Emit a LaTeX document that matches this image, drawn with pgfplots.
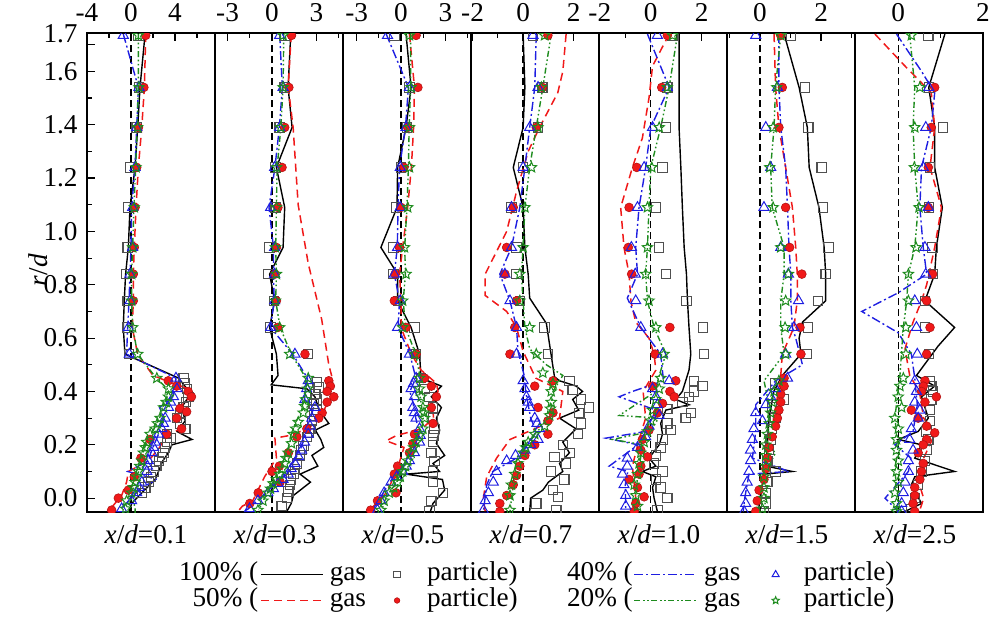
\documentclass[border=0pt]{standalone}
\usepackage{fontspec}
\setmainfont{Liberation Serif}
\usepackage{pgfplots}
\pgfplotsset{compat=1.18}
\newcommand\fsz{\fontsize{13.6}{16}\selectfont}
\definecolor{cR}{RGB}{240,25,25}
\definecolor{cB}{RGB}{30,30,225}
\definecolor{cG}{RGB}{30,140,30}
\definecolor{cK}{RGB}{80,80,80}
\pgfdeclareplotmark{ostar}{%
 \pgfpathmoveto{\pgfpointpolar{90}{\pgfplotmarksize}}%
 \pgfpathlineto{\pgfpointpolar{126}{0.45\pgfplotmarksize}}%
 \pgfpathlineto{\pgfpointpolar{162}{\pgfplotmarksize}}%
 \pgfpathlineto{\pgfpointpolar{198}{0.45\pgfplotmarksize}}%
 \pgfpathlineto{\pgfpointpolar{234}{\pgfplotmarksize}}%
 \pgfpathlineto{\pgfpointpolar{270}{0.45\pgfplotmarksize}}%
 \pgfpathlineto{\pgfpointpolar{306}{\pgfplotmarksize}}%
 \pgfpathlineto{\pgfpointpolar{342}{0.45\pgfplotmarksize}}%
 \pgfpathlineto{\pgfpointpolar{18}{\pgfplotmarksize}}%
 \pgfpathlineto{\pgfpointpolar{54}{0.45\pgfplotmarksize}}%
 \pgfpathclose\pgfusepathqstroke}
\pgfplotsset{
 gK/.style={black, line width=0.7pt, no marks},
 gR/.style={cR, line width=0.75pt, dash pattern=on 4pt off 2.5pt, no marks},
 gB/.style={cB, line width=0.7pt, dash pattern=on 4.5pt off 1.5pt on 1pt off 1.5pt, no marks},
 gG/.style={cG, line width=0.7pt, dash pattern=on 3pt off 1.3pt on 0.8pt off 1.3pt on 0.8pt off 1.3pt, no marks},
 pK/.style={cK, only marks, mark=square, mark size=2.35pt, mark options={draw=cK, line width=0.55pt, solid}},
 pR/.style={cR, only marks, mark=*, mark size=2.2pt, mark options={fill=cR, draw=cR!75!black, line width=0.3pt, solid}},
 pB/.style={cB, only marks, mark=triangle, mark size=2.9pt, mark options={draw=cB, line width=0.5pt, solid}},
 pG/.style={cG, only marks, mark=ostar, mark size=2.7pt, mark options={draw=cG, line width=0.5pt, solid}},
 zl/.style={black, line width=0.7pt, dash pattern=on 3.5pt off 2pt, forget plot},
 legline/.style={legend image code/.code={\draw[##1] (0pt,0pt) -- (31pt,0pt);}},
 panel/.style={
  scale only axis, width=64pt, height=239.5pt, anchor=south west,
  ymin=-0.052, ymax=1.744,
  axis line style={line width=0.75pt},
  xtick pos=right, xticklabel pos=right,
  ytick=\empty,
  tick align=inside,
  major tick length=4pt, minor tick length=2.5pt,
  every tick/.style={black, line width=0.6pt},
  clip marker paths=true, clip mode=individual,
  /pgf/number format/assume math mode=true,
  tick label style={font=\fsz},
  xticklabel style={yshift=1pt},
 },
}
\begin{document}
\fsz
\begin{tikzpicture}
\useasboundingbox (-43.5pt,-63.5pt) rectangle (452pt,256pt);
% ---------------- panel 1
\begin{axis}[panel, at={(0pt,0pt)}, xmin=-4, xmax=7.64, xtick={-4,0,4}, minor xtick={-2,2,6},
 ytick={0,0.2,0.4,0.6,0.8,1.0,1.2,1.4,1.6}, minor ytick={0.1,0.3,0.5,0.7,0.9,1.1,1.3,1.5}, ytick pos=left,
 yticklabel style={/pgf/number format/fixed, /pgf/number format/fixed zerofill, /pgf/number format/precision=1},
 extra y ticks={1.7}, extra y tick style={yticklabel style={/tikz/yshift=5.5pt}},
 legend columns=6, legend cell align=right,
 legend style={at={(0,0)}, anchor=north west, xshift=46pt, yshift=-24.75pt, draw=none, fill=none,
  inner sep=0pt, outer sep=0pt, font=\fsz, column sep=0pt, row sep=0pt,
  nodes={inner sep=0pt, text height=9.4pt, text depth=3.6pt},
  /tikz/column 2/.style={column sep=1pt}, /tikz/column 3/.style={column sep=3pt},
  /tikz/column 4/.style={column sep=13.8pt}, /tikz/column 5/.style={column sep=13.3pt},
  /tikz/column 6/.style={column sep=24.7pt}, /tikz/column 8/.style={column sep=0.5pt},
  /tikz/column 9/.style={column sep=3.5pt}, /tikz/column 10/.style={column sep=15.8pt},
  /tikz/column 11/.style={column sep=12.3pt}}]
\addlegendimage{empty legend}\addlegendentry{100\% (}
\addlegendimage{gK, legline}\addlegendentry{gas}
\addlegendimage{pK, mark size=1.7pt}\addlegendentry{particle)}
\addlegendimage{empty legend}\addlegendentry{40\% (}
\addlegendimage{gB, legline}\addlegendentry{gas}
\addlegendimage{pB, mark size=2pt}\addlegendentry{particle)}
\addlegendimage{empty legend}\addlegendentry{50\% (}
\addlegendimage{gR, legline}\addlegendentry{gas}
\addlegendimage{pR, mark size=1.4pt}\addlegendentry{particle)}
\addlegendimage{empty legend}\addlegendentry{20\% (}
\addlegendimage{gG, legline}\addlegendentry{gas}
\addlegendimage{pG, mark size=1.9pt}\addlegendentry{particle)}
\addplot[zl] coordinates {(0,-0.06) (0,1.75)};
\addplot[gK, forget plot] coordinates {(1.28,1.74) (0.82,1.54) (0.61,1.39) (0.37,1.24) (-0.09,1.09) (-0.24,0.94) (-0.49,0.84) (-0.61,0.74) (-0.70,0.64) (-0.55,0.54) (4.33,0.45) (5.09,0.41) (5.24,0.38) (4.6,0.34) (4.94,0.29) (4.18,0.25) (5.55,0.22) (3.72,0.20) (3.4,0.17) (2.9,0.14) (2.5,0.10) (2.2,0.07) (0.98,0.02) (0.06,-0.02) (-0.24,-0.06)};
\addplot[gR, forget plot] coordinates {(1.34,1.74) (1.22,1.54) (0.98,1.39) (0.67,1.24) (0.46,1.09) (0.30,0.94) (0.21,0.84) (0.21,0.74) (0.12,0.64) (0.6,0.54) (2.0,0.46) (3.2,0.44) (5.2,0.41) (5.4,0.38) (4.4,0.34) (4.2,0.30) (4.6,0.26) (3.3,0.24) (2.6,0.19) (1.6,0.14) (-0.24,0.10) (-0.4,0.06) (-0.85,0.01) (-2.07,-0.05)};
\addplot[gB, forget plot] coordinates {(-0.70,1.74) (0.67,1.54) (0.52,1.39) (0.37,1.24) (0.06,1.09) (0.0,0.94) (-0.09,0.84) (-0.18,0.74) (-0.30,0.64) (-0.40,0.54) (4.09,0.45) (4.0,0.41) (3.8,0.38) (2.6,0.34) (3.0,0.30) (2.7,0.26) (2.2,0.21) (1.8,0.17) (1.6,0.14) (-0.3,0.10) (2.4,0.07) (1.0,0.04) (0.5,0.02) (-0.9,-0.04)};
\addplot[gG, forget plot] coordinates {(0.67,1.74) (0.67,1.54) (0.55,1.39) (0.43,1.24) (0.27,1.09) (0.15,0.94) (0.06,0.84) (0.06,0.74) (0.15,0.64) (0.61,0.54) (2.3,0.45) (3.3,0.41) (3.3,0.38) (2.9,0.34) (2.6,0.30) (2.1,0.26) (1.4,0.21) (1.1,0.17) (1.0,0.14) (0.7,0.10) (0.4,0.06) (0.1,0.02) (0.37,-0.04) (0.37,-0.06)};
\addplot[pK, forget plot] coordinates {(0.67,1.735) (0.73,1.54) (0.52,1.39) (-0.09,1.24) (-0.24,1.09) (-0.30,0.94) (-0.40,0.84) (-0.30,0.74) (-0.30,0.64) (-0.18,0.54) (4.79,0.45) (4.9,0.43) (5.09,0.41) (5.24,0.38) (5.0,0.36) (4.79,0.34) (4.5,0.32) (4.18,0.30) (4.5,0.28) (4.94,0.26) (3.26,0.24) (3.6,0.225) (3.26,0.21) (3.1,0.19) (2.96,0.17) (2.8,0.155) (2.56,0.14) (2.3,0.12) (2.04,0.10) (1.8,0.08) (1.59,0.06) (1.3,0.04) (0.98,0.02)};
\addplot[pR, forget plot] coordinates {(1.34,1.735) (1.17,1.54) (0.67,1.39) (0.52,1.24) (0.37,1.09) (0.30,0.94) (0.21,0.84) (0.21,0.74) (3.39,0.44) (4.15,0.42) (5.2,0.40) (5.5,0.38) (4.45,0.336) (5.06,0.324) (4.15,0.30) (4.6,0.26) (3.24,0.24) (1.73,0.22) (0.9,0.15) (0.3,0.08) (-0.24,0.03) (-1.15,0.0) (-1.76,-0.045) (-2.5,-0.057)};
\addplot[pB, forget plot] coordinates {(-0.70,1.735) (0.73,1.54) (0.52,1.39) (0.37,1.24) (0.15,1.09) (0.15,0.94) (-0.09,0.84) (-0.09,0.74) (-0.24,0.64) (-0.15,0.54) (4.09,0.45) (4.18,0.41) (3.87,0.38) (3.6,0.36) (3.41,0.34) (3.11,0.30) (2.95,0.28) (2.80,0.26) (2.50,0.24) (2.20,0.21) (2.05,0.19) (1.89,0.17) (1.59,0.14) (1.5,0.12) (1.43,0.10) (0.98,0.06) (0.75,0.04) (0.52,0.02) (0.06,-0.01) (-0.85,-0.04) (-1.16,-0.057)};
\addplot[pG, forget plot] coordinates {(0.67,1.735) (0.73,1.54) (0.61,1.39) (0.46,1.24) (0.30,1.09) (0.15,0.94) (0.06,0.84) (0.06,0.74) (0.15,0.64) (0.61,0.54) (2.35,0.45) (3.41,0.41) (3.41,0.38) (3.2,0.36) (2.96,0.34) (2.65,0.30) (2.4,0.28) (2.20,0.26) (1.74,0.24) (1.43,0.21) (1.3,0.19) (1.13,0.17) (0.98,0.14) (0.8,0.12) (0.67,0.10) (0.5,0.08) (0.37,0.06) (0.2,0.04) (0.06,0.02) (-0.40,-0.01) (-0.49,-0.04)};
\node[anchor=base, font=\fsz] at ([xshift=-2.5pt, yshift=-15.5pt]rel axis cs:0.5,0) {\textit{x}/\textit{d}=0.1};
\node[rotate=90, anchor=center, font=\fsz] at ([xshift=-24.5pt]rel axis cs:0,0.505) {\textit{r}/\textit{d}};
\end{axis}
% ---------------- panel 2
\begin{axis}[panel, at={(64pt,0pt)}, xmin=-3.85, xmax=4.8, xtick={-3,0,3}, minor xtick={-1.5,1.5,4.5}]
\addplot[zl] coordinates {(0,-0.06) (0,1.75)};
\addplot[gK] coordinates {(1.27,1.74) (1.09,1.54) (1.36,1.39) (0.30,1.24) (0.86,1.09) (0.75,0.94) (-0.16,0.84) (0.18,0.74) (-0.16,0.64) (0.3,0.54) (0.41,0.46) (-0.05,0.425) (2.36,0.41) (2.9,0.38) (3.2,0.33) (3.84,0.28) (2.93,0.255) (3.3,0.22) (3.5,0.19) (2.7,0.16) (3.1,0.12) (1.9,0.09) (2.6,0.06) (1.45,0.01) (1.3,-0.02) (1.0,-0.05)};
\addplot[gR] coordinates {(1.3,1.74) (1.1,1.54) (1.43,1.39) (1.77,1.10) (2.45,0.88) (3.36,0.67) (3.84,0.50) (4.05,0.455) (3.95,0.42) (4.1,0.38) (3.6,0.34) (3.3,0.30) (2.4,0.26) (1.2,0.235) (0.2,0.225) (0.3,0.15) (-0.5,0.08) (-1.3,-0.01) (-2.0,-0.03) (-2.3,-0.05)};
\addplot[gB] coordinates {(0.52,1.74) (0.7,1.54) (0.5,1.39) (0.2,1.24) (-0.2,1.09) (0.1,0.94) (0.1,0.84) (0.15,0.74) (-0.1,0.64) (1.4,0.54) (2.4,0.45) (2.3,0.41) (2.2,0.37) (2.8,0.34) (2.5,0.27) (2.3,0.24) (1.9,0.18) (1.4,0.13) (1.0,0.09) (0.3,0.055) (-0.4,0.02) (-1.0,-0.01) (-1.6,-0.04) (-1.9,-0.05)};
\addplot[gG] coordinates {(0.8,1.74) (0.75,1.54) (0.6,1.39) (0.35,1.24) (0.3,1.09) (0.25,0.94) (0.3,0.84) (0.25,0.74) (0.55,0.64) (1.3,0.54) (2.3,0.45) (2.3,0.41) (2.1,0.37) (2.0,0.32) (1.6,0.285) (1.3,0.24) (1.2,0.205) (0.9,0.17) (0.7,0.13) (0.4,0.09) (0.0,0.055) (-0.3,0.02) (-0.6,-0.01) (-0.9,-0.045)};
\addplot[pK] coordinates {(0.86,1.735) (0.86,1.54) (0.52,1.39) (0.23,1.24) (0.25,1.09) (-0.16,0.94) (-0.23,0.84) (0.14,0.74) (-0.09,0.64) (2.45,0.54) (3.05,0.436) (3.16,0.415) (2.93,0.39) (3.0,0.37) (2.82,0.353) (3.0,0.33) (2.85,0.31) (2.70,0.29) (2.59,0.26) (2.47,0.245) (2.36,0.23) (2.14,0.196) (2.0,0.18) (1.91,0.16) (1.68,0.13) (1.55,0.11) (1.45,0.09) (1.3,0.07) (1.23,0.05) (1.1,0.025) (1.0,0.0) (0.66,-0.03) (0.55,-0.056)};
\addplot[pR] coordinates {(1.32,1.735) (1.14,1.54) (0.86,1.39) (0.68,1.24) (0.4,1.09) (0.3,0.94) (0.2,0.84) (0.3,0.74) (0.4,0.64) (2.23,0.54) (3.84,0.44) (3.95,0.42) (3.73,0.40) (4.18,0.38) (3.73,0.36) (3.39,0.32) (3.16,0.30) (2.36,0.26) (1.68,0.23) (1.11,0.17) (0.5,0.12) (0.0,0.10) (0.55,0.06) (-0.93,0.02) (-1.5,-0.02) (-2.07,-0.056)};
\addplot[pB] coordinates {(0.52,1.735) (0.75,1.54) (0.52,1.39) (0.18,1.24) (-0.09,1.09) (0.18,0.94) (0.18,0.84) (0.18,0.74) (-0.09,0.64) (1.55,0.54) (2.45,0.44) (2.34,0.41) (2.23,0.37) (2.9,0.34) (2.7,0.30) (2.57,0.27) (2.45,0.24) (2.2,0.21) (2.0,0.18) (1.8,0.155) (1.55,0.13) (1.3,0.11) (1.09,0.09) (0.75,0.07) (0.41,0.055) (0.1,0.035) (-0.27,0.02) (-0.95,-0.01) (-1.52,-0.04)};
\addplot[pG] coordinates {(0.75,1.735) (0.75,1.54) (0.59,1.39) (0.32,1.24) (0.30,1.09) (0.23,0.94) (0.30,0.84) (0.23,0.74) (0.52,0.64) (1.20,0.54) (2.45,0.45) (2.41,0.41) (2.27,0.37) (2.2,0.345) (2.11,0.32) (1.77,0.285) (1.6,0.26) (1.43,0.24) (1.32,0.205) (1.09,0.17) (0.95,0.15) (0.86,0.13) (0.7,0.11) (0.52,0.09) (0.3,0.07) (0.07,0.055) (-0.1,0.035) (-0.27,0.02) (-0.61,-0.01) (-0.95,-0.045)};
\node[anchor=base, font=\fsz] at ([xshift=-2pt, yshift=-15.5pt]rel axis cs:0.5,0) {\textit{x}/\textit{d}=0.3};
\end{axis}
% ---------------- panel 3
\begin{axis}[panel, at={(128pt,0pt)}, xmin=-3.92, xmax=4.73, xtick={-3,0,3}, minor xtick={-1.5,1.5,4.5}]
\addplot[zl] coordinates {(0,-0.06) (0,1.75)};
\addplot[gK] coordinates {(0.34,1.74) (0.68,1.54) (0.34,1.39) (-0.23,1.24) (-0.27,1.09) (-1.36,0.94) (-0.23,0.84) (-0.23,0.74) (0.68,0.64) (1.25,0.54) (1.36,0.45) (2.73,0.42) (2.05,0.38) (2.73,0.34) (2.39,0.30) (2.61,0.255) (2.39,0.205) (2.95,0.16) (2.16,0.13) (2.6,0.10) (0.34,0.09) (2.8,0.07) (2.95,0.03) (2.16,-0.02) (1.93,-0.06)};
\addplot[gR] coordinates {(0.57,1.74) (0.91,1.54) (0.85,1.39) (0.7,1.24) (0.45,1.09) (0.11,0.94) (-0.1,0.84) (0.0,0.74) (0.0,0.64) (0.7,0.54) (1.36,0.48) (2.4,0.43) (2.5,0.40) (2.1,0.36) (2.2,0.30) (1.4,0.26) (-0.3,0.235) (-1.0,0.215) (0.2,0.19) (-0.3,0.10) (-1.0,0.02) (-2.2,-0.05)};
\addplot[gB] coordinates {(-1.0,1.74) (0.5,1.54) (0.3,1.39) (-0.1,1.24) (-0.2,1.09) (-0.25,0.94) (-0.45,0.84) (-0.1,0.74) (-0.2,0.64) (0.6,0.54) (1.0,0.45) (0.6,0.40) (0.8,0.36) (1.0,0.30) (1.2,0.25) (1.1,0.20) (0.7,0.15) (-0.2,0.10) (-0.9,0.05) (-1.4,0.0) (-2.0,-0.05)};
\addplot[gG] coordinates {(0.65,1.74) (0.65,1.54) (0.55,1.39) (0.5,1.24) (0.4,1.09) (0.25,0.94) (0.3,0.84) (0.15,0.74) (0.3,0.64) (1.0,0.54) (1.3,0.45) (1.2,0.41) (1.3,0.38) (1.4,0.34) (1.5,0.30) (1.4,0.26) (0.95,0.21) (0.6,0.17) (0.4,0.14) (0.05,0.10) (-0.3,0.06) (-0.8,0.02) (-1.1,-0.01) (-1.3,-0.045)};
\addplot[pK] coordinates {(-0.45,1.735) (0.57,1.54) (0.41,1.39) (0.0,1.24) (-0.34,1.09) (-0.5,0.94) (-0.5,0.84) (-0.2,0.74) (0.91,0.64) (1.02,0.54) (1.36,0.45) (1.59,0.41) (1.93,0.38) (2.16,0.34) (2.16,0.30) (2.27,0.26) (2.2,0.235) (2.16,0.21) (2.05,0.17) (2.27,0.14) (2.16,0.10) (2.16,0.06) (2.84,0.02) (2.05,-0.01) (1.93,-0.05)};
\addplot[pR] coordinates {(1.02,1.735) (1.14,1.54) (0.45,1.39) (0.2,1.24) (0.0,1.09) (-0.1,0.94) (-0.4,0.84) (-0.45,0.74) (0.34,0.64) (1.02,0.54) (1.59,0.45) (2.05,0.42) (2.39,0.38) (2.05,0.34) (2.16,0.28) (0.91,0.24) (0.8,0.205) (0.57,0.17) (-0.23,0.12) (-0.45,0.09) (-0.34,0.02) (-1.59,-0.01) (-2.05,-0.045)};
\addplot[pB] coordinates {(-0.91,1.735) (0.57,1.54) (0.34,1.39) (-0.05,1.24) (-0.05,1.09) (-0.23,0.94) (-0.45,0.84) (-0.05,0.74) (-0.23,0.64) (0.57,0.54) (1.02,0.45) (0.85,0.43) (0.68,0.41) (0.91,0.38) (0.8,0.34) (0.9,0.32) (1.02,0.30) (1.25,0.26) (1.3,0.235) (1.25,0.21) (0.91,0.17) (0.57,0.14) (0.35,0.12) (0.11,0.10) (-0.3,0.08) (-0.68,0.06) (-1.14,0.02) (-1.36,-0.01) (-1.59,-0.045)};
\addplot[pG] coordinates {(0.57,1.735) (0.68,1.54) (0.57,1.39) (0.57,1.24) (0.45,1.09) (0.23,0.94) (0.34,0.84) (0.11,0.74) (0.11,0.64) (0.91,0.54) (1.25,0.45) (1.25,0.41) (1.36,0.38) (1.48,0.34) (1.55,0.32) (1.59,0.30) (1.48,0.26) (1.25,0.235) (1.02,0.21) (0.85,0.19) (0.68,0.17) (0.45,0.14) (0.3,0.12) (0.11,0.10) (-0.05,0.08) (-0.23,0.06) (-0.5,0.04) (-0.8,0.02) (-1.14,-0.01) (-1.36,-0.045)};
\node[anchor=base, font=\fsz] at ([xshift=-2pt, yshift=-15.5pt]rel axis cs:0.5,0) {\textit{x}/\textit{d}=0.5};
\end{axis}
% ---------------- panel 4
\begin{axis}[panel, at={(192pt,0pt)}, xmin=-2.06, xmax=3.0, xtick={-2,0,2}, minor xtick={-1,1}]
\addplot[zl] coordinates {(0,-0.06) (0,1.75)};
\addplot[gK] coordinates {(0.0,1.74) (0.07,1.54) (0.0,1.39) (-0.39,1.24) (0.0,1.09) (0.07,0.94) (0.20,0.84) (0.26,0.75) (0.92,0.655) (1.24,0.455) (1.44,0.44) (2.1,0.42) (2.35,0.40) (1.96,0.37) (2.2,0.33) (1.44,0.30) (2.09,0.26) (1.57,0.21) (1.83,0.17) (1.44,0.13) (1.57,0.10) (1.0,0.06) (0.78,0.03) (0.3,0.0) (0.26,-0.05)};
\addplot[gR] coordinates {(1.70,1.74) (1.57,1.60) (1.37,1.52) (0.65,1.39) (0.2,1.30) (-0.26,1.15) (-0.65,1.0) (-1.50,0.84) (-1.50,0.76) (-0.65,0.70) (-0.26,0.64) (0.0,0.55) (0.5,0.45) (1.57,0.40) (1.44,0.30) (-0.52,0.22) (-1.05,0.15) (-1.44,0.08) (-1.57,0.0) (-1.5,-0.05)};
\addplot[gB] coordinates {(0.52,1.74) (0.46,1.54) (0.26,1.39) (0.07,1.24) (-0.13,1.09) (-0.46,0.94) (-0.92,0.84) (-0.52,0.74) (-0.26,0.64) (-0.2,0.55) (0.07,0.45) (0.1,0.40) (0.3,0.30) (0.52,0.25) (0.2,0.20) (-0.26,0.15) (-1.2,0.10) (-1.44,0.05) (-1.57,-0.05)};
\addplot[gG] coordinates {(1.11,1.74) (0.78,1.54) (0.52,1.39) (0.26,1.24) (0.07,1.09) (0.0,0.94) (-0.07,0.84) (0.0,0.74) (0.07,0.64) (0.26,0.56) (0.92,0.50) (1.57,0.46) (1.18,0.40) (1.05,0.30) (0.26,0.22) (-0.26,0.15) (-0.39,0.05) (-0.52,-0.05)};
\addplot[pK] coordinates {(0.39,1.735) (0.76,1.54) (0.59,1.39) (0.0,1.24) (-0.46,1.09) (-0.26,0.94) (-0.26,0.84) (-0.13,0.74) (0.85,0.64) (0.98,0.54) (1.83,0.44) (1.96,0.405) (2.29,0.37) (2.61,0.34) (2.22,0.32) (2.29,0.28) (2.16,0.24) (1.57,0.20) (1.83,0.17) (1.24,0.155) (1.70,0.13) (1.11,0.10) (1.63,0.07) (1.18,0.03) (1.37,0.005) (0.52,-0.02) (1.31,-0.045)};
\addplot[pR] coordinates {(0.98,1.735) (0.76,1.54) (0.52,1.39) (-0.39,1.09) (-0.65,0.94) (-0.72,0.84) (-0.26,0.74) (-0.33,0.64) (-0.52,0.54) (1.18,0.44) (0.46,0.42) (0.59,0.34) (1.18,0.32) (0.98,0.29) (0.98,0.24) (0.46,0.20) (0.07,0.16) (-0.13,0.12) (-0.26,0.085) (-0.39,0.05) (-0.65,0.01) (-0.92,-0.02) (-0.92,-0.05)};
\addplot[pB] coordinates {(0.39,1.735) (0.59,1.54) (0.26,1.39) (0.0,1.24) (-0.46,1.09) (-0.46,0.94) (-0.72,0.84) (-0.52,0.74) (-0.26,0.64) (-0.26,0.54) (0.0,0.44) (0.07,0.41) (0.13,0.38) (0.2,0.36) (0.26,0.34) (0.46,0.30) (0.55,0.28) (0.65,0.26) (0.59,0.22) (0.3,0.20) (0.07,0.18) (-0.3,0.16) (-0.65,0.14) (-1.05,0.10) (-1.18,0.06) (-1.37,0.02) (-1.5,-0.01) (-1.57,-0.045)};
\addplot[pG] coordinates {(0.85,1.735) (0.72,1.54) (0.59,1.39) (0.33,1.24) (0.07,1.09) (0.0,0.94) (-0.13,0.84) (-0.13,0.74) (0.26,0.64) (0.52,0.54) (0.78,0.47) (1.18,0.43) (1.11,0.40) (1.11,0.36) (1.08,0.335) (1.05,0.31) (0.85,0.27) (0.46,0.24) (0.2,0.21) (0.1,0.19) (0.0,0.17) (-0.2,0.13) (-0.33,0.09) (-0.46,0.05) (-0.52,0.01) (-0.52,-0.045)};
\node[anchor=base, font=\fsz] at ([xshift=-2pt, yshift=-15.5pt]rel axis cs:0.5,0) {\textit{x}/\textit{d}=0.7};
\end{axis}
% ---------------- panel 5
\begin{axis}[panel, at={(256pt,0pt)}, xmin=-2.03, xmax=2.99, xtick={-2,0,2}, minor xtick={-1,1}]
\addplot[zl] coordinates {(0,-0.06) (0,1.75)};
\addplot[gK] coordinates {(1.11,1.74) (1.11,1.54) (1.11,1.39) (1.18,1.24) (1.24,1.09) (1.31,0.94) (1.40,0.84) (1.44,0.74) (1.50,0.64) (1.57,0.54) (1.50,0.48) (1.37,0.44) (1.24,0.40) (0.98,0.37) (1.5,0.35) (0.59,0.33) (0.39,0.28) (0.46,0.24) (0.33,0.20) (-0.07,0.15) (0.20,0.12) (-0.33,0.10) (0.20,0.08) (0.07,0.04) (0.13,0.0) (0.26,-0.05)};
\addplot[gR] coordinates {(0.72,1.74) (0.07,1.62) (-0.07,1.50) (-0.33,1.35) (-0.72,1.24) (-1.18,1.09) (-1.05,0.94) (-0.85,0.84) (-0.78,0.74) (-0.59,0.66) (-0.07,0.60) (0.13,0.54) (0.20,0.48) (-0.3,0.40) (-0.2,0.30) (-0.46,0.22) (-0.72,0.12) (-0.59,0.0) (-0.5,-0.05)};
\addplot[gB] coordinates {(-0.13,1.74) (0.72,1.54) (0.0,1.39) (-0.20,1.24) (-0.46,1.09) (-0.59,0.94) (-0.52,0.84) (-0.92,0.75) (-0.39,0.64) (0.39,0.54) (0.5,0.44) (-0.72,0.40) (-1.24,0.38) (0.2,0.33) (-0.2,0.25) (-1.76,0.225) (-0.5,0.20) (-1.63,0.12) (-0.9,0.10) (-1.0,0.05) (-0.98,-0.05)};
\addplot[gG] coordinates {(1.05,1.74) (0.72,1.54) (0.39,1.39) (0.0,1.24) (-0.07,1.09) (-0.13,0.94) (-0.2,0.84) (-0.13,0.74) (0.13,0.64) (0.59,0.54) (0.3,0.45) (0.2,0.40) (-1.24,0.31) (0.3,0.30) (0.0,0.25) (-1.5,0.22) (-0.3,0.20) (-0.5,0.10) (-0.6,0.0) (-0.5,-0.05)};
\addplot[pK] coordinates {(0.85,1.735) (0.65,1.54) (0.6,1.39) (0.46,1.24) (0.20,1.09) (0.33,0.94) (0.59,0.84) (1.40,0.74) (2.05,0.64) (2.09,0.54) (1.70,0.44) (2.03,0.42) (1.70,0.40) (1.50,0.38) (1.24,0.36) (1.57,0.32) (1.37,0.30) (0.65,0.335) (0.65,0.28) (0.78,0.255) (0.46,0.22) (0.39,0.19) (0.20,0.16) (0.13,0.13) (0.46,0.10) (0.20,0.07) (0.39,0.04) (0.65,0.0) (0.26,-0.045)};
\addplot[pR] coordinates {(0.65,1.735) (0.43,1.54) (-0.55,1.24) (-0.85,1.09) (-0.88,0.94) (-0.75,0.84) (0.75,0.64) (0.17,0.54) (0.98,0.44) (0.07,0.42) (0.75,0.40) (0.92,0.38) (0.46,0.355) (0.26,0.32) (-0.07,0.255) (-0.33,0.22) (-0.39,0.18) (-0.13,0.155) (-0.39,0.12) (-0.46,0.09) (-0.85,0.07) (-0.52,0.04) (-0.26,0.005) (-0.59,-0.02) (-0.65,-0.05)};
\addplot[pB] coordinates {(0.26,1.735) (0.65,1.54) (0.07,1.39) (-0.26,1.24) (-0.52,1.09) (-0.76,0.94) (-0.61,0.84) (-0.59,0.74) (-0.39,0.64) (0.46,0.54) (0.72,0.44) (0.07,0.41) (0.20,0.38) (0.26,0.35) (0.33,0.31) (-0.07,0.27) (-0.2,0.23) (-0.52,0.19) (-0.92,0.15) (-0.92,0.12) (-1.11,0.09) (-1.05,0.05) (-0.98,0.01) (-0.98,-0.03) (-1.05,-0.055)};
\addplot[pG] coordinates {(0.85,1.735) (0.65,1.54) (0.33,1.39) (0.04,1.24) (-0.13,1.09) (-0.13,0.94) (-0.20,0.84) (-0.07,0.74) (0.20,0.64) (0.52,0.54) (0.39,0.45) (0.33,0.41) (0.20,0.37) (0.07,0.33) (0.0,0.29) (-0.13,0.25) (-0.26,0.21) (-0.39,0.17) (-0.46,0.13) (-0.52,0.09) (-0.65,0.05) (-0.59,0.01) (-0.52,-0.03) (-0.46,-0.055)};
\node[anchor=base, font=\fsz] at ([xshift=-2pt, yshift=-15.5pt]rel axis cs:0.5,0) {\textit{x}/\textit{d}=1.0};
\end{axis}
% ---------------- panel 6
\begin{axis}[panel, at={(320pt,0pt)}, xmin=-1.08, xmax=3.11, xtick={0,2}, minor xtick={-1,1,3}]
\addplot[zl] coordinates {(0,-0.06) (0,1.75)};
\addplot[gK] coordinates {(0.79,1.74) (1.28,1.54) (1.55,1.39) (1.61,1.24) (1.93,1.09) (2.10,0.94) (2.15,0.84) (2.15,0.74) (1.39,0.66) (1.28,0.60) (1.34,0.54) (0.73,0.46) (0.45,0.40) (0.30,0.30) (0.24,0.20) (0.19,0.12) (1.06,0.10) (0.13,0.09) (0.0,0.0) (-0.05,-0.05)};
\addplot[gR] coordinates {(0.46,1.74) (0.51,1.54) (0.62,1.39) (0.84,1.24) (1.06,1.09) (1.17,0.94) (1.22,0.84) (1.22,0.74) (1.11,0.64) (0.73,0.54) (0.68,0.46) (0.6,0.40) (0.45,0.30) (0.30,0.20) (0.15,0.10) (0.0,0.0) (-0.05,-0.05)};
\addplot[gB] coordinates {(0.62,1.74) (0.62,1.54) (0.68,1.39) (0.84,1.24) (0.90,1.09) (0.95,0.94) (1.01,0.84) (1.01,0.74) (1.06,0.64) (1.17,0.60) (1.39,0.50) (0.51,0.44) (-0.14,0.35) (-0.14,0.25) (-0.25,0.15) (0.95,0.10) (-0.36,0.09) (-0.5,0.0) (-0.55,-0.05)};
\addplot[gG] coordinates {(0.68,1.74) (0.51,1.54) (0.46,1.39) (0.35,1.24) (0.40,1.09) (0.79,0.94) (0.79,0.84) (0.68,0.74) (0.68,0.64) (0.79,0.54) (0.13,0.44) (0.30,0.35) (0.24,0.20) (0.51,0.17) (0.19,0.10) (0.19,0.0) (0.13,-0.05)};
\addplot[pK] coordinates {(1.01,1.735) (1.48,1.54) (1.58,1.39) (2.02,1.24) (2.07,1.09) (2.24,0.94) (2.15,0.84) (1.90,0.74) (1.57,0.64) (1.53,0.54) (0.51,0.43) (0.79,0.37) (0.40,0.34) (0.51,0.30) (0.40,0.26) (0.35,0.22) (0.30,0.18) (0.24,0.14) (0.51,0.10) (0.24,0.06) (0.19,0.02) (0.19,-0.02) (0.13,-0.05)};
\addplot[pR] coordinates {(0.68,1.735) (0.73,1.54) (0.62,1.39) (0.84,1.09) (0.97,0.94) (1.37,0.84) (1.31,0.64) (1.34,0.54) (0.79,0.45) (0.79,0.42) (0.68,0.39) (0.68,0.36) (0.62,0.33) (0.57,0.30) (0.51,0.27) (0.40,0.23) (0.30,0.19) (0.24,0.15) (0.19,0.11) (0.13,0.07) (-0.03,0.03) (-0.09,-0.01) (-0.14,-0.05)};
\addplot[pB] coordinates {(-0.14,1.735) (0.57,1.54) (0.19,1.39) (0.35,1.24) (0.13,1.09) (0.68,0.94) (0.93,0.84) (1.26,0.74) (1.11,0.64) (0.84,0.54) (0.90,0.45) (0.51,0.41) (0.35,0.38) (0.19,0.35) (-0.14,0.32) (0.08,0.29) (-0.2,0.26) (-0.25,0.22) (-0.31,0.18) (-0.31,0.14) (-0.36,0.10) (-0.42,0.06) (-0.47,0.02) (-0.47,-0.02) (-0.52,-0.05)};
\addplot[pG] coordinates {(0.68,1.735) (0.55,1.54) (0.43,1.39) (0.32,1.24) (0.43,1.09) (0.68,0.94) (0.93,0.84) (0.84,0.74) (0.82,0.64) (0.84,0.54) (0.62,0.44) (0.46,0.40) (0.40,0.36) (0.35,0.32) (0.30,0.28) (0.24,0.24) (0.19,0.20) (0.19,0.16) (0.19,0.12) (0.13,0.08) (0.13,0.04) (0.13,0.0) (0.08,-0.04)};
\node[anchor=base, font=\fsz] at ([xshift=-2pt, yshift=-15.5pt]rel axis cs:0.5,0) {\textit{x}/\textit{d}=1.5};
\end{axis}
% ---------------- panel 7
\begin{axis}[panel, at={(384pt,0pt)}, xmin=-1.02, xmax=2.0, xtick={0,2}, minor xtick={1}]
\addplot[zl] coordinates {(0,-0.06) (0,1.75)};
\addplot[gK] coordinates {(1.10,1.74) (0.72,1.54) (0.86,1.39) (0.86,1.24) (1.04,1.09) (0.90,0.94) (0.86,0.84) (0.63,0.74) (1.33,0.64) (0.94,0.57) (0.43,0.46) (0.86,0.42) (0.55,0.38) (0.71,0.30) (0.47,0.25) (0.0,0.22) (0.55,0.20) (0.39,0.15) (1.33,0.10) (0.39,0.08) (0.31,0.05) (0.55,-0.02) (0.16,-0.05)};
\addplot[gR] coordinates {(-0.55,1.74) (0.16,1.62) (0.78,1.52) (0.86,1.39) (0.75,1.24) (1.02,1.09) (0.86,0.94) (0.67,0.80) (0.55,0.74) (0.35,0.66) (0.16,0.56) (0.27,0.46) (0.5,0.40) (0.6,0.30) (0.86,0.24) (0.6,0.15) (0.5,0.05) (0.6,0.0) (0.5,-0.05)};
\addplot[gB] coordinates {(-0.04,1.74) (0.55,1.60) (0.86,1.52) (0.78,1.39) (0.55,1.24) (0.51,1.09) (0.59,0.94) (0.67,0.84) (0.0,0.77) (-0.86,0.70) (0.0,0.62) (0.31,0.54) (0.39,0.45) (0.45,0.35) (0.35,0.25) (-0.08,0.20) (0.3,0.15) (0.24,0.10) (-0.31,0.0) (0.0,-0.05)};
\addplot[gG] coordinates {(0.27,1.74) (0.39,1.54) (0.35,1.39) (0.39,1.24) (0.47,1.09) (0.39,0.94) (0.24,0.84) (0.20,0.74) (0.12,0.64) (0.08,0.55) (0.04,0.46) (-0.08,0.30) (0.0,0.20) (-0.08,0.10) (0.0,0.0) (-0.04,-0.05)};
\addplot[pK] coordinates {(0.71,1.735) (0.72,1.54) (1.06,1.39) (0.75,1.24) (0.72,1.09) (0.81,0.94) (0.82,0.84) (0.63,0.74) (0.63,0.64) (0.72,0.54) (0.75,0.44) (0.78,0.42) (0.82,0.40) (0.78,0.37) (0.75,0.33) (0.75,0.29) (0.67,0.25) (0.71,0.22) (0.67,0.18) (0.63,0.14) (0.55,0.10) (0.47,0.05) (0.39,0.0) (0.31,-0.04)};
\addplot[pR] coordinates {(0.86,1.54) (0.78,1.39) (0.71,1.24) (0.71,1.09) (0.81,0.84) (0.67,0.74) (0.75,0.64) (0.67,0.54) (0.63,0.44) (0.59,0.42) (0.55,0.40) (0.90,0.38) (0.63,0.36) (0.31,0.33) (0.47,0.30) (0.67,0.27) (0.86,0.245) (0.67,0.22) (0.59,0.20) (0.47,0.17) (0.59,0.13) (0.55,0.10) (0.51,0.07) (0.39,0.04) (0.39,0.01) (0.35,-0.02) (0.39,-0.05)};
\addplot[pB] coordinates {(0.72,1.54) (0.65,1.39) (0.59,1.24) (0.71,1.09) (0.63,0.94) (0.65,0.84) (0.39,0.74) (0.43,0.64) (0.45,0.54) (0.39,0.44) (0.43,0.40) (0.39,0.36) (0.51,0.33) (0.47,0.30) (0.31,0.26) (0.27,0.22) (0.35,0.18) (0.24,0.14) (0.24,0.10) (0.16,0.06) (0.12,0.02) (0.08,-0.02) (0.08,-0.05)};
\addplot[pG] coordinates {(0.31,1.735) (0.51,1.54) (0.39,1.39) (0.38,1.24) (0.49,1.09) (0.42,0.94) (0.24,0.84) (0.24,0.74) (0.18,0.64) (0.18,0.54) (0.12,0.45) (0.04,0.42) (0.0,0.38) (0.08,0.34) (-0.08,0.30) (0.0,0.26) (-0.04,0.22) (-0.04,0.18) (0.0,0.14) (-0.04,0.10) (0.0,0.06) (-0.08,0.02) (-0.04,-0.02) (-0.04,-0.05)};
\node[anchor=base, font=\fsz] at ([xshift=-2pt, yshift=-15.5pt]rel axis cs:0.5,0) {\textit{x}/\textit{d}=2.5};
\end{axis}
\end{tikzpicture}
\end{document}
